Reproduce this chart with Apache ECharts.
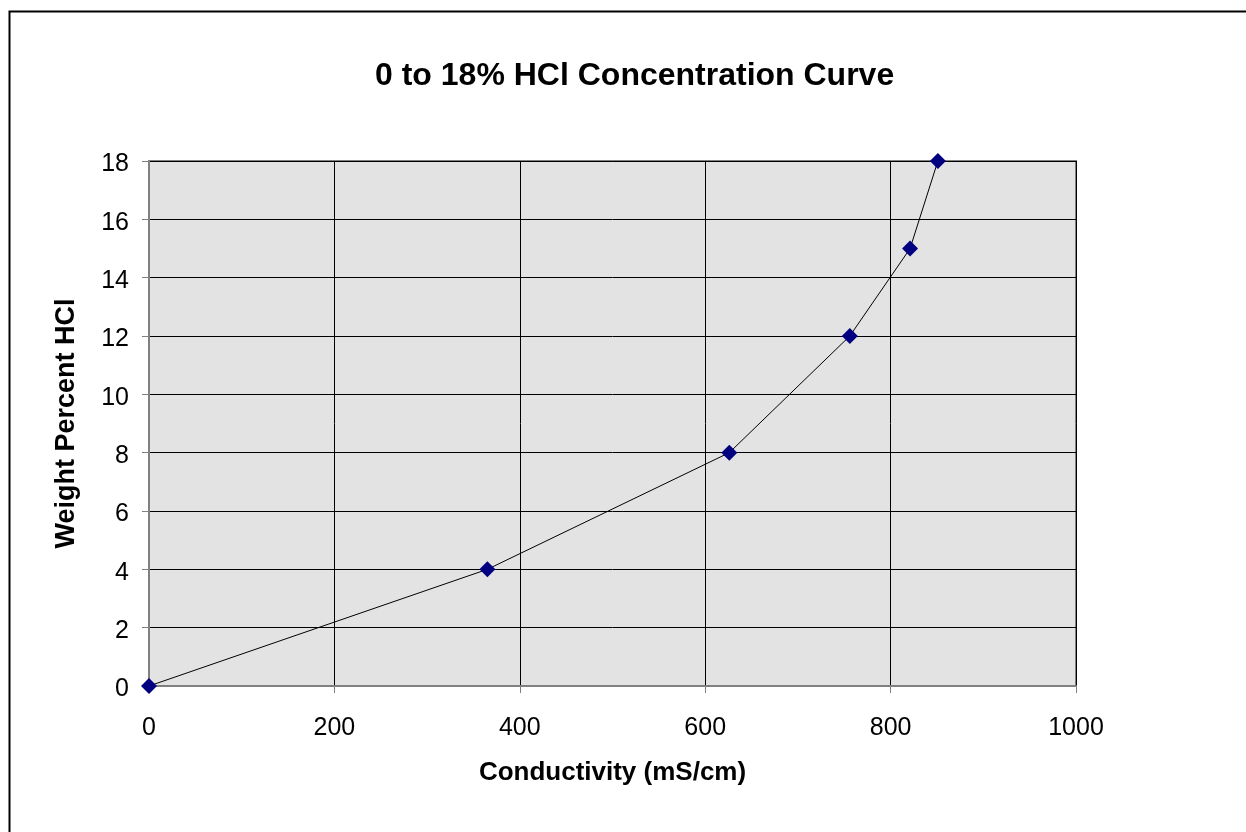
<!DOCTYPE html>
<html>
<head>
<meta charset="utf-8">
<script src="https://cdn.jsdelivr.net/npm/echarts@6/dist/echarts.min.js"></script>
<style>
html,body{margin:0;padding:0;background:#fff;}
#chart{width:1246px;height:832px;}
</style>
</head>
<body>
<div id="chart"></div>
<script>
var conductivity = [0, 365, 626, 756, 821, 851];
var weightPercent = [0, 4, 8, 12, 15, 18];
var titleText = '0 to 18% HCl Concentration Curve';
var xName = 'Conductivity (mS/cm)';
var yName = 'Weight Percent HCl';

var points = conductivity.map(function (c, i) { return [c, weightPercent[i]]; });
var font = '"Liberation Sans", Arial, sans-serif';

var chart = echarts.init(document.getElementById('chart'));
chart.setOption({
  backgroundColor: '#ffffff',
  animation: false,
  graphic: [{
    type: 'rect',
    shape: { x: 9.5, y: 11.5, width: 1400, height: 1000 },
    style: { fill: 'none', stroke: '#000', lineWidth: 2 },
    silent: true,
    z: -1
  }],
  title: {
    text: titleText,
    left: 370,
    top: 55,
    textStyle: { fontFamily: font, fontWeight: 'bold', fontSize: 32, color: '#000' }
  },
  grid: {
    left: 149, right: 170, top: 161, bottom: 146,
    show: true,
    backgroundColor: '#e3e3e3',
    borderColor: '#808080',
    borderWidth: 2
  },
  xAxis: {
    type: 'value',
    min: 0, max: 1000, interval: 200,
    name: xName,
    nameLocation: 'middle',
    nameGap: 74,
    nameTextStyle: { fontFamily: font, fontWeight: 'bold', fontSize: 26, color: '#000' },
    axisLine: { show: true, lineStyle: { color: '#808080', width: 2 } },
    axisTick: { show: true, inside: false, length: 7, lineStyle: { color: '#808080', width: 1 } },
    axisLabel: { fontFamily: font, fontSize: 25, color: '#000', margin: 30,
      formatter: function (v) { return String(v); } },
    splitLine: { show: true, lineStyle: { color: '#000', width: 1 } }
  },
  yAxis: {
    type: 'value',
    min: 0, max: 18, interval: 2,
    name: yName,
    nameLocation: 'middle',
    nameGap: 69,
    nameTextStyle: { fontFamily: font, fontWeight: 'bold', fontSize: 27, color: '#000' },
    axisLine: { show: true, lineStyle: { color: '#808080', width: 2 } },
    axisTick: { show: true, inside: false, length: 7, lineStyle: { color: '#808080', width: 1 } },
    axisLabel: { fontFamily: font, fontSize: 25, color: '#000', margin: 20,
      formatter: function (v) { return '{t|' + v + '}'; },
      rich: { t: { fontFamily: font, fontSize: 25, color: '#000', padding: [7, 0, 0, 0] } } },
    splitLine: { show: true, lineStyle: { color: '#000', width: 1 } }
  },
  series: [{
    type: 'line',
    data: points,
    symbol: 'diamond',
    symbolSize: 16,
    showAllSymbol: true,
    clip: false,
    lineStyle: { color: '#000', width: 1 },
    itemStyle: { color: '#000080', borderWidth: 0 },
    z: 5
  }]
});
</script>
</body>
</html>
